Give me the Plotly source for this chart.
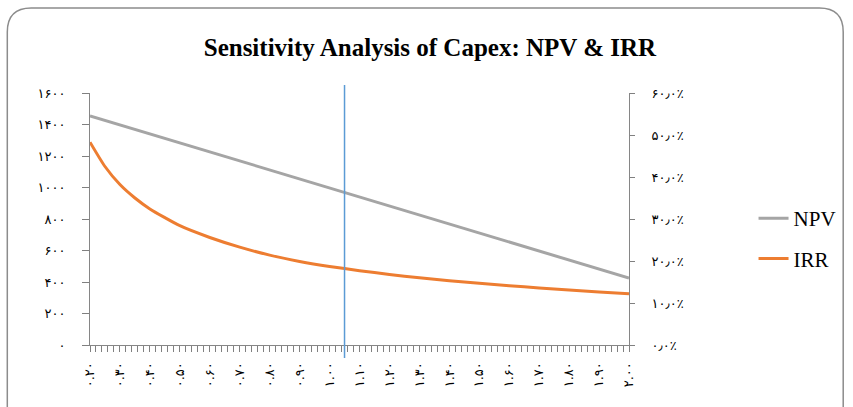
import plotly.graph_objects as go

# ---- data ----
capex_factor = [0.2, 0.3, 0.4, 0.5, 0.6, 0.7, 0.8, 0.9, 1.0, 1.1,
                1.2, 1.3, 1.4, 1.5, 1.6, 1.7, 1.8, 1.9, 2.0]
npv = [1455, 1398, 1341, 1283, 1226, 1169, 1112, 1055, 998, 940,
       883, 826, 769, 712, 655, 597, 540, 483, 425]
irr_factor = [0.2, 0.25, 0.3, 0.35, 0.4, 0.5, 0.6, 0.7, 0.8, 0.9, 1.0, 1.1,
              1.2, 1.3, 1.4, 1.5, 1.6, 1.7, 1.8, 1.9, 2.0]
irr = [0.483, 0.425, 0.382, 0.350, 0.324, 0.284, 0.256, 0.233, 0.214, 0.199, 0.187, 0.177,
       0.168, 0.160, 0.153, 0.147, 0.141, 0.136, 0.131, 0.126, 0.122]
base_case = 1.05

x_label_vals = [0.2, 0.3, 0.4, 0.5, 0.6, 0.7, 0.8, 0.9, 1.0, 1.1,
                1.2, 1.3, 1.4, 1.5, 1.6, 1.7, 1.8, 1.9, 2.0]
x_ticktext = ["۰.۲۰", "۰.۳۰", "۰.۴۰", "۰.۵۰", "۰.۶۰", "۰.۷۰", "۰.۸۰", "۰.۹۰", "۱.۰۰", "۱.۱۰",
              "۱.۲۰", "۱.۳۰", "۱.۴۰", "۱.۵۰", "۱.۶۰", "۱.۷۰", "۱.۸۰", "۱.۹۰", "۲.۰۰"]
y_tickvals = [0, 200, 400, 600, 800, 1000, 1200, 1400, 1600]
y_ticktext = ["۰", "۲۰۰", "۴۰۰", "۶۰۰", "۸۰۰", "۱۰۰۰", "۱۲۰۰", "۱۴۰۰", "۱۶۰۰"]
y2_tickvals = [0, 0.1, 0.2, 0.3, 0.4, 0.5, 0.6]
y2_ticktext = ["۰٫۰٪", "۱۰٫۰٪", "۲۰٫۰٪", "۳۰٫۰٪", "۴۰٫۰٪", "۵۰٫۰٪", "۶۰٫۰٪"]

# tick marks every 0.02, labels every 0.10
x_tickpos, x_ticklab = [], []
for i in range(len(x_label_vals) - 1):
    for k in range(5):
        x_tickpos.append(round(x_label_vals[i] + k * 0.02, 2))
        x_ticklab.append(x_ticktext[i] if k == 0 else "")
x_tickpos.append(x_label_vals[-1])
x_ticklab.append(x_ticktext[-1])

# ---- layout geometry (pixels) ----
W, H = 853, 407
L, R, T, B = 90, 631, 93, 345
pw, ph = R - L, B - T

def px(xp):
    return (xp - L) / pw

def py(yp):
    return (B - yp) / ph

fig = go.Figure()
fig.add_trace(go.Scatter(x=capex_factor, y=npv, name="NPV", mode="lines",
                         line=dict(color="#A5A5A5", width=3), legendgroup="a"))
fig.add_trace(go.Scatter(x=irr_factor, y=irr, name="IRR", mode="lines",
                         line=dict(color="#ED7D31", width=3, shape="spline", smoothing=0.6),
                         yaxis="y2", legendgroup="b"))

# rounded outer border
x0, x1 = px(7), px(846)
y0, y1 = py(425), py(8)
rx, ry = 24 / pw, 24 / ph
path = (f"M {x0},{y0} L {x0},{y1-ry} Q {x0},{y1} {x0+rx},{y1} "
        f"L {x1-rx},{y1} Q {x1},{y1} {x1},{y1-ry} L {x1},{y0} Z")
fig.add_shape(type="path", path=path, xref="paper", yref="paper",
              line=dict(color="#8C8C8C", width=1.5), layer="below")

# base case vertical line
fig.add_shape(type="line", xref="x", yref="paper", x0=base_case, x1=base_case,
              y0=py(358), y1=py(85), line=dict(color="#5B9BD5", width=1.5))

tick_font = dict(family="DejaVu Sans", size=13, color="#000000")
axis_common = dict(showgrid=False, zeroline=False, showline=True, linecolor="#868686",
                   linewidth=1, ticks="outside", tickcolor="#808080", tickwidth=1,
                   tickfont=tick_font)

fig.update_layout(
    width=W, height=H,
    margin=dict(l=L, r=W - R, t=T, b=H - B, pad=0),
    paper_bgcolor="white", plot_bgcolor="white",
    title=dict(text="<b>Sensitivity Analysis of Capex: NPV & IRR</b>",
               font=dict(family="Liberation Serif", size=25, color="#000000"),
               x=0.504, xanchor="center", xref="container",
               y=1 - 47 / H, yanchor="middle", yref="container"),
    xaxis=dict(range=[0.2, 2.0], tickmode="array", tickvals=x_tickpos, ticktext=x_ticklab,
               tickangle=-90, ticklen=6, ticklabelstandoff=5, **axis_common),
    yaxis=dict(range=[0, 1600], tickvals=y_tickvals, ticktext=y_ticktext, ticklen=7,
               ticklabelstandoff=14, **axis_common),
    yaxis2=dict(range=[0, 0.6], tickvals=y2_tickvals, ticktext=y2_ticktext, overlaying="y",
                side="right", ticklen=5, ticklabelstandoff=14, **axis_common),
    legend=dict(x=px(756), xanchor="left", y=py(238.5), yanchor="middle",
                font=dict(family="Liberation Serif", size=21, color="#000000"),
                traceorder="grouped", tracegroupgap=10, bgcolor="rgba(0,0,0,0)"),
    showlegend=True,
)

fig.write_html("out.html", config={"displayModeBar": False},
               post_script="document.body.style.margin='0';")
